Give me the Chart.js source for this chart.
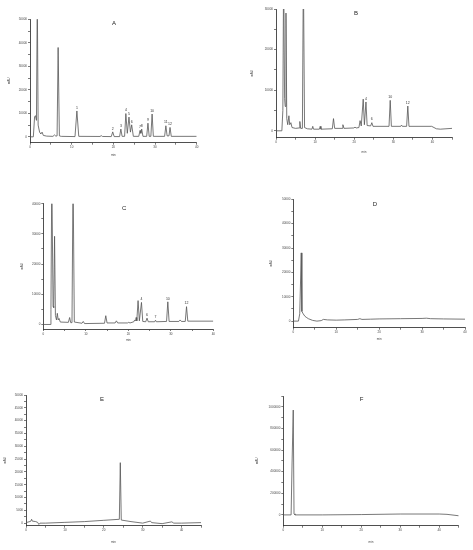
<!DOCTYPE html>
<html>
<head>
<meta charset="utf-8">
<script src="https://cdn.jsdelivr.net/npm/chart.js@4"></script>
<style>
  html, body { margin:0; padding:0; background:#fff; }
  body { width:473px; height:550px; position:relative; overflow:hidden; }
  canvas { position:absolute; }
</style>
</head>
<body>
<script>
// ---------------- DATA ----------------
// Panel A
const timeA   = [0,0.8,1.1,1.3,1.55,1.75,1.95,2.3,2.6,2.9,3.2,4.0,5.5,5.9,6.2,6.5,6.75,7.05,7.5,10.8,11.25,11.7,16.8,17.1,17.4,19.5,19.85,20.2,21.5,21.8,22.1,22.7,23.0,23.35,23.75,24.1,24.4,24.8,26.1,26.4,26.6,26.8,27.1,28.0,28.3,28.6,29.0,29.3,29.6,32.3,32.6,32.9,33.35,33.6,33.9,40];
const signalA = [0,0,8500,9000,7000,60000,5000,2000,1200,2000,600,300,200,800,300,400,38000,400,200,100,11000,200,150,500,150,100,2100,100,100,3300,200,200,9900,1500,8400,2000,5100,200,200,2700,1500,3300,200,200,5800,200,200,9700,200,200,4700,400,400,4000,200,200];
const peakTimeA = [11.25,19.85,21.8,23.0,23.75,24.4,26.4,26.8,28.3,29.3,32.6,33.6];
const peakTopA  = [11000,2100,3300,9900,8400,5100,2700,3300,5800,9700,4700,4000];
const peakTextA = ["1","2","3","4","5","6","7","8","9","10","11","12"];

// Panel B
const timeB   = [0,1.5,1.75,1.95,2.2,2.35,2.55,2.75,3.0,3.3,3.5,3.8,4.1,5.0,5.9,6.1,6.3,6.75,7.0,7.3,8.0,9.2,9.4,9.6,11.1,11.3,11.5,14.4,14.7,15.0,16.9,17.1,17.4,19.9,20.2,20.5,21.2,21.5,21.8,22.3,22.6,23.0,23.3,24.2,24.5,24.8,28.9,29.2,29.5,31.9,32.1,32.3,33.4,33.7,34.0,39.8,41.0,42.0,45];
const signalB = [0,0,5000,40000,8000,6000,29000,3000,1500,3700,1500,2000,800,600,700,2300,600,600,40000,800,500,400,1100,400,400,1100,400,500,3000,600,600,1500,600,700,900,700,800,2500,1200,7800,1500,7100,1300,1200,2000,1100,1100,7500,1100,1100,1400,1100,1100,6100,1100,1100,500,400,600];
const peakTimeB = [23.0,24.5,29.2,33.7];
const peakTopB  = [7100,2000,7500,6100];
const peakTextB = ["4","6","10","12"];

// Panel C
const timeC   = [0,1.6,1.8,2.0,2.3,2.45,2.65,2.85,3.1,3.3,3.5,3.7,4.0,5.9,6.2,6.45,6.75,7.0,7.3,9.1,9.4,9.7,14.4,14.7,15.0,16.9,17.2,17.5,19.8,20.1,20.4,21.3,21.5,21.7,21.85,22.0,22.3,22.6,23.1,23.4,24.1,24.4,24.7,26.2,26.4,26.6,29.0,29.3,29.6,31.9,32.2,32.5,33.4,33.7,34.0,40];
const signalC = [0,0,5000,50000,6000,5600,29200,3000,1500,3700,1500,2000,800,700,2300,600,600,50000,800,400,1000,300,400,2900,500,500,1200,500,500,700,500,900,1500,1200,2300,1200,7900,1200,7300,1000,900,2100,900,900,1400,900,1000,7500,1000,1000,1500,1000,1000,5900,1100,1100];
const peakTimeC = [23.1,24.4,26.4,29.3,33.7];
const peakTopC  = [7300,2100,1400,7500,5900];
const peakTextC = ["4","6","7","10","12"];

// Panel D
const timeD   = [0,1.2,1.5,1.85,2.0,2.3,2.7,3.0,3.5,4.5,5.5,6.5,7.0,8.0,10,12,15,15.5,16,18,20,25,30,31,32,35,40];
const signalD = [0,0,3000,28000,4000,3000,2000,1600,1000,300,0,200,700,500,400,500,700,1000,700,800,900,1000,1100,1200,1000,900,800];

// Panel E
const timeE   = [0,1.2,1.45,1.6,2.5,3.0,3.3,3.6,5,10,15,20,24.0,24.25,24.5,27,30,32.0,32.3,35,37.5,38,40,45];
const signalE = [200,700,1500,800,600,300,-500,0,0,300,600,1100,1500,23600,1200,600,0,800,200,-200,500,0,0,200];

// Panel F
const timeF   = [0,2.0,2.25,2.4,2.55,2.75,3.0,10,20,30,40,42,45];
const signalF = [0,0,480000,480000,970000,10000,0,0,3000,8000,8000,5000,-8000];

// Axis ticks (major ticks carry labels, minor ticks sit between them)
const xTicks40 = [0,5,10,15,20,25,30,35,40];
const xTicks45 = [0,5,10,15,20,25,30,35,40,45];
const xLabels  = [0,10,20,30,40];
const yTicksA = [0,5000,10000,15000,20000,25000,30000,35000,40000,45000,50000];
const yTicksB = [0,5000,10000,15000,20000,25000,30000];
const yTicksC = [0,5000,10000,15000,20000,25000,30000,35000,40000];
const yTicksD = [0,5000,10000,15000,20000,25000,30000,35000,40000,45000,50000];
const yTicksE = [0,2500,5000,7500,10000,12500,15000,17500,20000,22500,25000,27500,30000,32500,35000,37500,40000,42500,45000,47500,50000];
const yTicksF = [0,100000,200000,300000,400000,500000,600000,700000,800000,900000,1000000,1100000];
const yLabelsA = [0,10000,20000,30000,40000,50000];
const yLabelsB = [0,10000,20000,30000];
const yLabelsC = [0,10000,20000,30000,40000];
const yLabelsD = [0,10000,20000,30000,40000,50000];
const yLabelsE = [0,5000,10000,15000,20000,25000,30000,35000,40000,45000,50000];
const yLabelsF = [0,200000,400000,600000,800000,1000000];

const panelLetters = ["A","B","C","D","E","F"];
const yAxisTitle = "mAU";
const xAxisTitle = "min";

// ---------------- layout (page pixels) ----------------
const panels = [
  {letter:0, t:timeA, s:signalA, pk:[peakTimeA,peakTopA,peakTextA], L:30,   R:196.7, T:19.3, B:142.7, ylabX:9,     xlabY:155, xmax:40, xt:xTicks40, ymin:-2500,  ymax:50000,   yt:yTicksA, yl:yLabelsA, tf:[0.504,0.03]},
  {letter:1, t:timeB, s:signalB, pk:[peakTimeB,peakTopB,peakTextB], L:276,  R:452,   T:9,    B:137.7, ylabX:252.7, xlabY:152, xmax:45, xt:xTicks45, ymin:-1700,  ymax:30000,   yt:yTicksB, yl:yLabelsB, tf:[0.455,0.03]},
  {letter:2, t:timeC, s:signalC, pk:[peakTimeC,peakTopC,peakTextC], L:43.3, R:213.3, T:203.7,B:329,   ylabX:22,    xlabY:340, xmax:40, xt:xTicks40, ymin:-1500,  ymax:40000,   yt:yTicksC, yl:yLabelsC, tf:[0.475,0.034]},
  {letter:3, t:timeD, s:signalD, pk:null,                         L:293.3,R:465,   T:199.3,B:327.7, ylabX:271.7, xlabY:339, xmax:40, xt:xTicks40, ymin:-2700,  ymax:50000,   yt:yTicksD, yl:yLabelsD, tf:[0.476,0.037]},
  {letter:4, t:timeE, s:signalE, pk:null,                         L:26,   R:201,   T:395,  B:525.7, ylabX:5,     xlabY:542, xmax:45, xt:xTicks45, ymin:-1000,  ymax:50000,   yt:yTicksE, yl:yLabelsE, tf:[0.434,0.03]},
  {letter:5, t:timeF, s:signalF, pk:null,                         L:283.3,R:458.7, T:396,  B:525.7, ylabX:257,   xlabY:542, xmax:45, xt:xTicks45, ymin:-100000,ymax:1100000, yt:yTicksF, yl:yLabelsF, tf:[0.447,0.023]}
];

const FONT = "'Liberation Sans', Arial, sans-serif";

const notesPlugin = {
  id: 'peakNotes',
  afterDatasetsDraw(chart, args, opts) {
    const ctx = chart.ctx, ca = chart.chartArea;
    ctx.save();
    ctx.fillStyle = '#222';
    ctx.font = '6px ' + FONT;
    ctx.textAlign = 'center';
    ctx.textBaseline = 'middle';
    ctx.fillText(opts.letter, ca.left + opts.tf[0]*(ca.right-ca.left), ca.top + opts.tf[1]*(ca.bottom-ca.top));
    if (opts.pk) {
      const [pt, ptop, ptxt] = opts.pk;
      ctx.font = '3.5px ' + FONT;
      ctx.textBaseline = 'bottom';
      ctx.fillStyle = '#333';
      for (let i = 0; i < pt.length; i++) {
        const x = chart.scales.x.getPixelForValue(pt[i]);
        const y = chart.scales.y.getPixelForValue(ptop[i]) - 1.5;
        ctx.fillText(ptxt[i], x, y);
      }
    }
    ctx.restore();
  }
};

panels.forEach(p => {
  const cLeft = Math.floor(p.L - (p.L - p.ylabX + 1.8));
  const yW = p.L - cLeft;
  const cTop = Math.floor(p.T - 6);
  const padT = p.T - cTop;
  const cRight = Math.ceil(p.R + 6);
  const padR = cRight - p.R;
  const cBottom = Math.ceil(p.xlabY + 2);
  const xH = cBottom - p.B;
  const cv = document.createElement('canvas');
  cv.width = cRight - cLeft;
  cv.height = cBottom - cTop;
  cv.style.left = cLeft + 'px';
  cv.style.top = cTop + 'px';
  cv.style.width = cv.width + 'px';
  cv.style.height = cv.height + 'px';
  document.body.appendChild(cv);

  const pts = p.t.map((t, i) => ({x: t, y: p.s[i]}));
  const tickFont = {size: 3, family: FONT};

  new Chart(cv, {
    type: 'line',
    data: { datasets: [{ data: pts, borderColor: '#555', borderWidth: 0.8, pointRadius: 0, tension: 0, fill: false }] },
    options: {
      responsive: false,
      animation: false,
      devicePixelRatio: 1,
      events: [],
      layout: { padding: { left: 0, top: padT, right: padR, bottom: 0 } },
      plugins: {
        legend: { display: false },
        tooltip: { enabled: false },
        peakNotes: { letter: panelLetters[p.letter], tf: p.tf, pk: p.pk }
      },
      scales: {
        x: {
          type: 'linear', min: 0, max: p.xmax,
          border: { display: true, color: '#222', width: 0.8 },
          grid: { display: true, drawOnChartArea: false, drawTicks: true, tickLength: 2, color: '#222', lineWidth: 0.6 },
          ticks: { autoSkip: false, maxRotation: 0, padding: 1, color: '#444', font: tickFont,
                   callback: v => (xLabels.includes(v) ? String(v) : '') },
          afterBuildTicks: s => { s.ticks = p.xt.map(v => ({value: v})); },
          title: { display: true, text: xAxisTitle, color: '#444', font: tickFont, padding: 0 },
          afterFit: s => { s.height = xH; }
        },
        y: {
          type: 'linear', min: p.ymin, max: p.ymax,
          border: { display: true, color: '#222', width: 0.8 },
          grid: { display: true, drawOnChartArea: false, drawTicks: true, tickLength: 2, color: '#222', lineWidth: 0.6 },
          ticks: { autoSkip: false, padding: 1, color: '#444', font: tickFont,
                   callback: v => (p.yl.includes(v) ? String(v) : '') },
          afterBuildTicks: s => { s.ticks = p.yt.map(v => ({value: v})); },
          title: { display: true, text: yAxisTitle, color: '#444', font: tickFont, padding: 0 },
          afterFit: s => { s.width = yW; }
        }
      }
    },
    plugins: [notesPlugin]
  });
});
</script>
</body>
</html>
